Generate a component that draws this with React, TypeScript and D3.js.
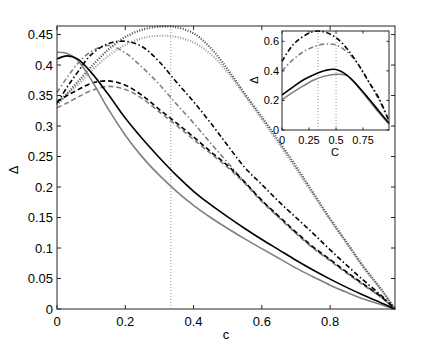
import * as d3 from "d3";

// main plot, c grid
const mainC = [0, 0.03, 0.06, 0.1, 0.15, 0.2, 0.25, 0.3, 0.35, 0.4, 0.45, 0.5, 0.55, 0.6, 0.65, 0.7, 0.75, 0.8, 0.85, 0.9, 0.95, 0.99];
const blackSolid = [0.41, 0.415, 0.41, 0.388, 0.352, 0.313, 0.279, 0.248, 0.219, 0.193, 0.171, 0.151, 0.132, 0.114, 0.097, 0.08, 0.064, 0.049, 0.035, 0.022, 0.01, 0];
const graySolid = [0.421, 0.419, 0.408, 0.376, 0.328, 0.285, 0.249, 0.219, 0.193, 0.17, 0.15, 0.132, 0.115, 0.099, 0.083, 0.067, 0.053, 0.039, 0.027, 0.016, 0.007, 0];
const blackDashed = [0.34, 0.35, 0.359, 0.37, 0.374, 0.367, 0.35, 0.327, 0.305, 0.282, 0.258, 0.235, 0.208, 0.178, 0.152, 0.126, 0.102, 0.081, 0.06, 0.04, 0.02, 0];
const grayDashed = [0.33, 0.338, 0.347, 0.358, 0.365, 0.36, 0.345, 0.323, 0.301, 0.278, 0.255, 0.232, 0.206, 0.176, 0.15, 0.124, 0.1, 0.079, 0.058, 0.038, 0.019, 0];
const blackDashDot = [0.337, 0.364, 0.388, 0.417, 0.435, 0.439, 0.43, 0.405, 0.372, 0.34, 0.305, 0.268, 0.232, 0.204, 0.176, 0.15, 0.124, 0.097, 0.071, 0.046, 0.022, 0];
const grayDashDot = [0.355, 0.38, 0.402, 0.422, 0.432, 0.42, 0.396, 0.368, 0.336, 0.305, 0.272, 0.24, 0.208, 0.178, 0.15, 0.124, 0.1, 0.08, 0.059, 0.039, 0.019, 0];
const blackDotted = [0.335, 0.353, 0.372, 0.397, 0.425, 0.446, 0.458, 0.463, 0.462, 0.452, 0.428, 0.393, 0.353, 0.315, 0.275, 0.234, 0.191, 0.148, 0.108, 0.068, 0.032, 0];
const grayDotted = [0.34, 0.353, 0.367, 0.39, 0.415, 0.433, 0.444, 0.448, 0.446, 0.437, 0.418, 0.388, 0.35, 0.311, 0.271, 0.23, 0.188, 0.146, 0.106, 0.066, 0.031, 0];

const mainXTicks = [0, 0.2, 0.4, 0.6, 0.8];
const mainYTicks = [0, 0.05, 0.1, 0.15, 0.2, 0.25, 0.3, 0.35, 0.4, 0.45];
const mainMarks = [1 / 3];

// inset
const insetC = [0, 0.1, 0.2, 0.3, 0.4, 0.5, 0.6, 0.7, 0.8, 0.9, 0.99];
const insetBlackDashDot = [0.465, 0.575, 0.635, 0.668, 0.662, 0.625, 0.552, 0.45, 0.33, 0.21, 0.06];
const insetGrayDashDot = [0.4, 0.475, 0.53, 0.565, 0.582, 0.575, 0.53, 0.45, 0.33, 0.2, 0.06];
const insetBlackSolid = [0.237, 0.29, 0.34, 0.376, 0.403, 0.41, 0.372, 0.3, 0.215, 0.125, 0.045];
const insetGraySolid = [0.205, 0.255, 0.3, 0.34, 0.365, 0.377, 0.368, 0.295, 0.205, 0.115, 0.04];
const insetXTicks = [0, 0.25, 0.5, 0.75];
const insetYTicks = [0, 0.2, 0.4, 0.6];
const insetMarks = [1 / 3, 0.5];

const GRAY = "#808080";
const FONT = "'Liberation Sans', Arial, sans-serif";

const styles: Record<string, { stroke: string; dash?: string; w: number }> = {
  solidK: { stroke: "#000", w: 1.6 },
  solidG: { stroke: GRAY, w: 1.6 },
  dashK: { stroke: "#000", dash: "5,3", w: 1.6 },
  dashG: { stroke: GRAY, dash: "5,3", w: 1.6 },
  dashDotK: { stroke: "#000", dash: "5,2.5,1.5,2.5", w: 1.6 },
  dashDotG: { stroke: GRAY, dash: "5,2.5,1.5,2.5", w: 1.6 },
  dotK: { stroke: "#444", dash: "1,1.6", w: 2.2 },
  dotG: { stroke: "#999", dash: "1,1.6", w: 2.2 },
};

export default function App() {
  const x = d3.scaleLinear().domain([0, 0.99]).range([57, 395]);
  const y = d3.scaleLinear().domain([0, 0.464]).range([309, 26]);
  const ix = d3.scaleLinear().domain([0, 0.99]).range([282, 389]);
  const iy = d3.scaleLinear().domain([0, 0.67]).range([130, 31]);

  const mainLine = d3
    .line<number>()
    .x((_, i) => x(mainC[i]))
    .y((d) => y(d))
    .curve(d3.curveCatmullRom.alpha(0.5));
  const insetLine = d3
    .line<number>()
    .x((_, i) => ix(insetC[i]))
    .y((d) => iy(d))
    .curve(d3.curveCatmullRom.alpha(0.5));

  const mainSeries: [number[], string][] = [
    [grayDotted, "dotG"],
    [blackDotted, "dotK"],
    [grayDashDot, "dashDotG"],
    [blackDashDot, "dashDotK"],
    [grayDashed, "dashG"],
    [blackDashed, "dashK"],
    [graySolid, "solidG"],
    [blackSolid, "solidK"],
  ];
  const insetSeries: [number[], string][] = [
    [insetGrayDashDot, "dashDotG"],
    [insetBlackDashDot, "dashDotK"],
    [insetGraySolid, "solidG"],
    [insetBlackSolid, "solidK"],
  ];

  const [x0, x1] = x.range();
  const [y0, y1] = y.range();
  const [ix0, ix1] = ix.range();
  const [iy0, iy1] = iy.range();

  return (
    <svg width={436} height={349} style={{ position: "absolute", left: 0, top: 0, background: "#fff" }} fontFamily={FONT}>
      <rect width={436} height={349} fill="#fff" />
      {/* vertical marker */}
      {mainMarks.map((m) => (
        <line key={m} x1={x(m)} x2={x(m)} y1={y0} y2={y1} stroke="#999" strokeWidth={1} strokeDasharray="1,2" />
      ))}
      {mainSeries.map(([d, s], i) => (
        <path
          key={i}
          d={mainLine(d) || ""}
          fill="none"
          stroke={styles[s].stroke}
          strokeWidth={styles[s].w}
          strokeDasharray={styles[s].dash}
        />
      ))}
      {/* main axes box */}
      <rect x={x0} y={y1} width={x1 - x0} height={y0 - y1} fill="none" stroke="#262626" strokeWidth={1} />
      {mainXTicks.map((t) => (
        <g key={t}>
          <line x1={x(t)} x2={x(t)} y1={y0} y2={y0 - 4} stroke="#262626" />
          <line x1={x(t)} x2={x(t)} y1={y1} y2={y1 + 4} stroke="#262626" />
          <text x={x(t)} y={y0 + 17} fontSize={13} textAnchor="middle">
            {t}
          </text>
        </g>
      ))}
      {mainYTicks.map((t) => (
        <g key={t}>
          <line x1={x0} x2={x0 + 4} y1={y(t)} y2={y(t)} stroke="#262626" />
          <line x1={x1} x2={x1 - 4} y1={y(t)} y2={y(t)} stroke="#262626" />
          <text x={x0 - 4} y={y(t)} dy="0.35em" fontSize={13} textAnchor="end">
            {t}
          </text>
        </g>
      ))}
      <text x={226} y={339} fontSize={13} textAnchor="middle">
        c
      </text>
      <text transform="translate(18,170) rotate(-90)" fontSize={13} textAnchor="middle">
        Δ
      </text>

      {/* inset */}
      <rect x={ix0} y={iy1} width={ix1 - ix0} height={iy0 - iy1} fill="#fff" />
      {insetMarks.map((m) => (
        <line key={m} x1={ix(m)} x2={ix(m)} y1={iy0} y2={iy1} stroke="#999" strokeWidth={1} strokeDasharray="1,2" />
      ))}
      {insetSeries.map(([d, s], i) => (
        <path
          key={i}
          d={insetLine(d) || ""}
          fill="none"
          stroke={styles[s].stroke}
          strokeWidth={styles[s].w}
          strokeDasharray={styles[s].dash}
        />
      ))}
      <rect x={ix0} y={iy1} width={ix1 - ix0} height={iy0 - iy1} fill="none" stroke="#262626" strokeWidth={1} />
      {insetXTicks.map((t) => (
        <g key={t}>
          <line x1={ix(t)} x2={ix(t)} y1={iy0} y2={iy0 - 2.5} stroke="#262626" />
          <line x1={ix(t)} x2={ix(t)} y1={iy1} y2={iy1 + 2.5} stroke="#262626" />
          <text x={ix(t)} y={iy0 + 14} fontSize={11} textAnchor="middle">
            {t}
          </text>
        </g>
      ))}
      {insetYTicks.map((t) => (
        <g key={t}>
          <line x1={ix0} x2={ix0 + 2.5} y1={iy(t)} y2={iy(t)} stroke="#262626" />
          <line x1={ix1} x2={ix1 - 2.5} y1={iy(t)} y2={iy(t)} stroke="#262626" />
          <text x={ix0 - 3} y={iy(t)} dy="0.35em" fontSize={11} textAnchor="end">
            {t}
          </text>
        </g>
      ))}
      <text x={335} y={156} fontSize={11} textAnchor="middle">
        C
      </text>
      <text transform="translate(258,80) rotate(-90)" fontSize={11} textAnchor="middle">
        Δ
      </text>
    </svg>
  );
}
